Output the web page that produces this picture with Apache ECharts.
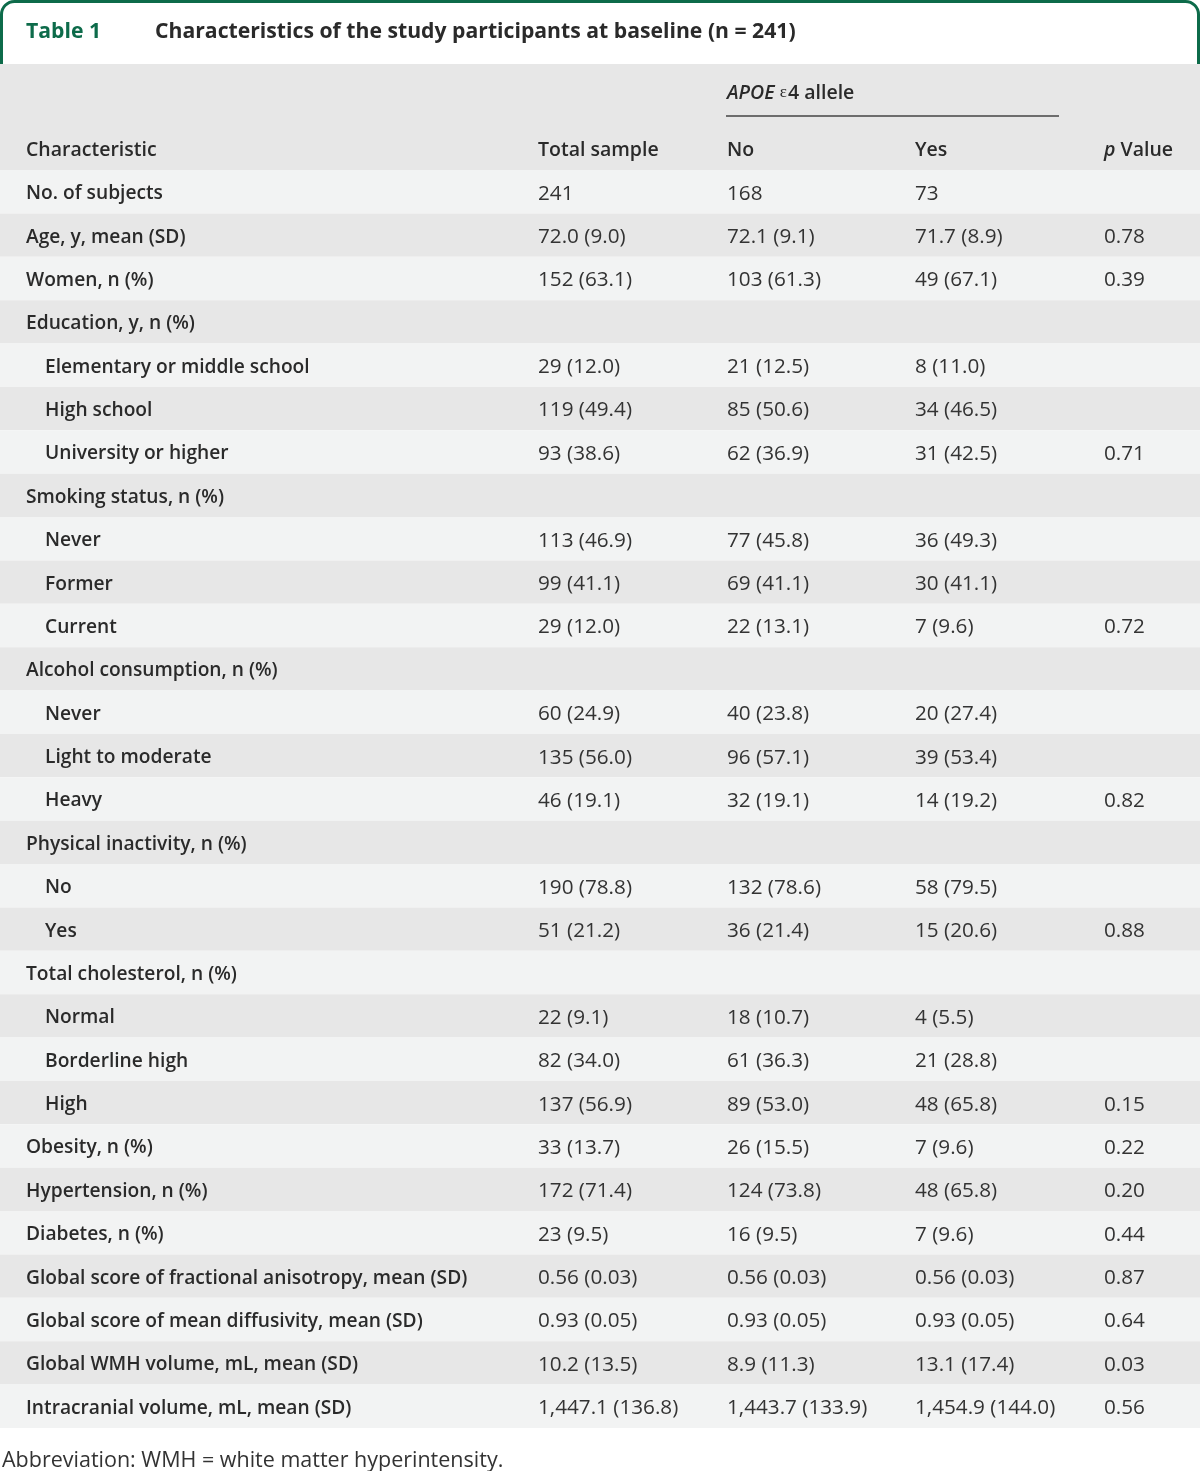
<!DOCTYPE html>
<html>
<head>
<meta charset="utf-8">
<script src="https://cdn.jsdelivr.net/npm/echarts@6/dist/echarts.min.js"></script>
<style>
html,body{margin:0;padding:0;background:#fff;}
#main{width:1200px;height:1471px;}
</style>
</head>
<body>
<div id="main"></div>
<script>
const tableTitle = 'Characteristics of the study participants at baseline (n = 241)';
const tableNumber = 'Table 1';
const footnote = 'Abbreviation: WMH = white matter hyperintensity.';
const columnHeaders = ['Characteristic', 'Total sample', 'No', 'Yes', 'p Value'];
const groupHeader = 'APOE ε4 allele';

const rowLabels = [
  'No. of subjects', 'Age, y, mean (SD)', 'Women, n (%)', 'Education, y, n (%)',
  'Elementary or middle school', 'High school', 'University or higher',
  'Smoking status, n (%)', 'Never', 'Former', 'Current',
  'Alcohol consumption, n (%)', 'Never', 'Light to moderate', 'Heavy',
  'Physical inactivity, n (%)', 'No', 'Yes',
  'Total cholesterol, n (%)', 'Normal', 'Borderline high', 'High',
  'Obesity, n (%)', 'Hypertension, n (%)', 'Diabetes, n (%)',
  'Global score of fractional anisotropy, mean (SD)',
  'Global score of mean diffusivity, mean (SD)',
  'Global WMH volume, mL, mean (SD)',
  'Intracranial volume, mL, mean (SD)'
];
const rowLevel = [0,0,0,0, 1,1,1, 0,1,1,1, 0,1,1,1, 0,1,1, 0,1,1,1, 0,0,0,0,0,0,0];
const totalSample = ['241','72.0 (9.0)','152 (63.1)','','29 (12.0)','119 (49.4)','93 (38.6)','','113 (46.9)','99 (41.1)','29 (12.0)','','60 (24.9)','135 (56.0)','46 (19.1)','','190 (78.8)','51 (21.2)','','22 (9.1)','82 (34.0)','137 (56.9)','33 (13.7)','172 (71.4)','23 (9.5)','0.56 (0.03)','0.93 (0.05)','10.2 (13.5)','1,447.1 (136.8)'];
const apoeNo = ['168','72.1 (9.1)','103 (61.3)','','21 (12.5)','85 (50.6)','62 (36.9)','','77 (45.8)','69 (41.1)','22 (13.1)','','40 (23.8)','96 (57.1)','32 (19.1)','','132 (78.6)','36 (21.4)','','18 (10.7)','61 (36.3)','89 (53.0)','26 (15.5)','124 (73.8)','16 (9.5)','0.56 (0.03)','0.93 (0.05)','8.9 (11.3)','1,443.7 (133.9)'];
const apoeYes = ['73','71.7 (8.9)','49 (67.1)','','8 (11.0)','34 (46.5)','31 (42.5)','','36 (49.3)','30 (41.1)','7 (9.6)','','20 (27.4)','39 (53.4)','14 (19.2)','','58 (79.5)','15 (20.6)','','4 (5.5)','21 (28.8)','48 (65.8)','7 (9.6)','48 (65.8)','7 (9.6)','0.56 (0.03)','0.93 (0.05)','13.1 (17.4)','1,454.9 (144.0)'];
const pValues = ['','0.78','0.39','','','','0.71','','','','0.72','','','','0.82','','','0.88','','','','0.15','0.22','0.20','0.44','0.87','0.64','0.03','0.56'];

const FONT = '"Open Sans", "Noto Sans", sans-serif';
const GREEN = '#0d6b4a';
const TXT = '#2a2a2a';
const VAL = '#333333';
const LIGHT = '#f2f3f3';
const DARK = '#e7e7e7';
const colX = [26, 538, 727, 915, 1104];
const indentX = 45;
const TXT_DY = 2;
const LABEL_FONT = '600 19.2px ' + FONT;

const chart = echarts.init(document.getElementById('main'), null, {renderer: 'canvas'});

const rowData = rowLabels.map((l, i) => [0, i]);

function renderItem(params, api) {
  const i = api.value(1);
  const p = api.coord([0, i]);
  const bandH = api.size([0, 1])[1];
  const top = p[1] - bandH / 2;
  const cy = p[1] + TXT_DY;
  const children = [];
  children.push({
    type: 'rect',
    shape: {x: 0, y: top, width: 1200, height: bandH},
    style: {fill: i % 2 === 0 ? LIGHT : DARK},
    silent: true
  });
  const lx = rowLevel[i] ? indentX : colX[0];
  children.push({
    type: 'text',
    style: {text: rowLabels[i], x: api.coord([lx, i])[0], y: cy, fill: TXT,
      font: LABEL_FONT, verticalAlign: 'middle', textAlign: 'left'}
  });
  const vals = [totalSample[i], apoeNo[i], apoeYes[i], pValues[i]];
  vals.forEach((v, k) => {
    if (!v) return;
    children.push({
      type: 'text',
      style: {text: v, x: api.coord([colX[k + 1], i])[0], y: cy, fill: VAL,
        font: '400 20.7px ' + FONT, verticalAlign: 'middle', textAlign: 'left'}
    });
  });
  return {type: 'group', children: children};
}

const option = {
  backgroundColor: '#ffffff',
  animation: false,
  grid: {left: 0, right: 0, top: 170, bottom: 43},
  xAxis: {type: 'value', min: 0, max: 1200, show: false},
  yAxis: {type: 'category', data: rowLabels, inverse: true, show: false},
  graphic: [
    // green frame (bottom edge hidden under header band)
    {type: 'rect', z: 1, silent: true,
      shape: {x: 1.5, y: 1.5, width: 1197, height: 80, r: [13, 13, 0, 0]},
      style: {stroke: GREEN, lineWidth: 3, fill: '#fff'}},
    // header band
    {type: 'rect', z: 2, silent: true, shape: {x: 0, y: 64, width: 1200, height: 106}, style: {fill: DARK}},
    {type: 'text', z: 3, x: 26, y: 32, style: {text: tableNumber, fill: GREEN, font: '700 21.2px ' + FONT, verticalAlign: 'middle'}},
    {type: 'text', z: 3, x: 155, y: 32, style: {text: tableTitle, fill: TXT, font: '700 21.2px ' + FONT, verticalAlign: 'middle'}},
    {type: 'text', z: 3, x: colX[2], y: 93, style: {
      text: '{i|APOE} {e|ε}{b|4 allele}', verticalAlign: 'middle',
      rich: {i: {fontStyle: 'italic', fontWeight: 600, fontSize: 19.5, fontFamily: FONT, fill: TXT},
             e: {fontSize: 17, fontFamily: 'serif', fontWeight: 400, fill: TXT, padding: [0, 1, 0, 2]},
             b: {fontWeight: 600, fontSize: 19.5, fontFamily: FONT, fill: TXT}}}},
    {type: 'line', z: 3, silent: true, shape: {x1: 726, y1: 116, x2: 1059, y2: 116}, style: {stroke: '#444', lineWidth: 1.5}},
    {type: 'text', z: 3, x: colX[0], y: 150, style: {text: columnHeaders[0], fill: TXT, font: '600 19.5px ' + FONT, verticalAlign: 'middle'}},
    {type: 'text', z: 3, x: colX[1], y: 150, style: {text: columnHeaders[1], fill: TXT, font: '600 19.5px ' + FONT, verticalAlign: 'middle'}},
    {type: 'text', z: 3, x: colX[2], y: 150, style: {text: columnHeaders[2], fill: TXT, font: '600 19.5px ' + FONT, verticalAlign: 'middle'}},
    {type: 'text', z: 3, x: colX[3], y: 150, style: {text: columnHeaders[3], fill: TXT, font: '600 19.5px ' + FONT, verticalAlign: 'middle'}},
    {type: 'text', z: 3, x: colX[4], y: 150, style: {
      text: '{i|p}{b| Value}', verticalAlign: 'middle',
      rich: {i: {fontStyle: 'italic', fontWeight: 600, fontSize: 19.5, fontFamily: FONT, fill: TXT},
             b: {fontWeight: 600, fontSize: 19.5, fontFamily: FONT, fill: TXT}}}},
    {type: 'text', z: 3, x: 2, y: 1461, style: {text: footnote, fill: VAL, font: '400 21.5px ' + FONT, verticalAlign: 'middle'}}
  ],
  series: [{
    type: 'custom',
    renderItem: renderItem,
    encode: {x: 0, y: 1},
    data: rowData,
    silent: true
  }]
};
chart.setOption(option);
</script>
</body>
</html>
